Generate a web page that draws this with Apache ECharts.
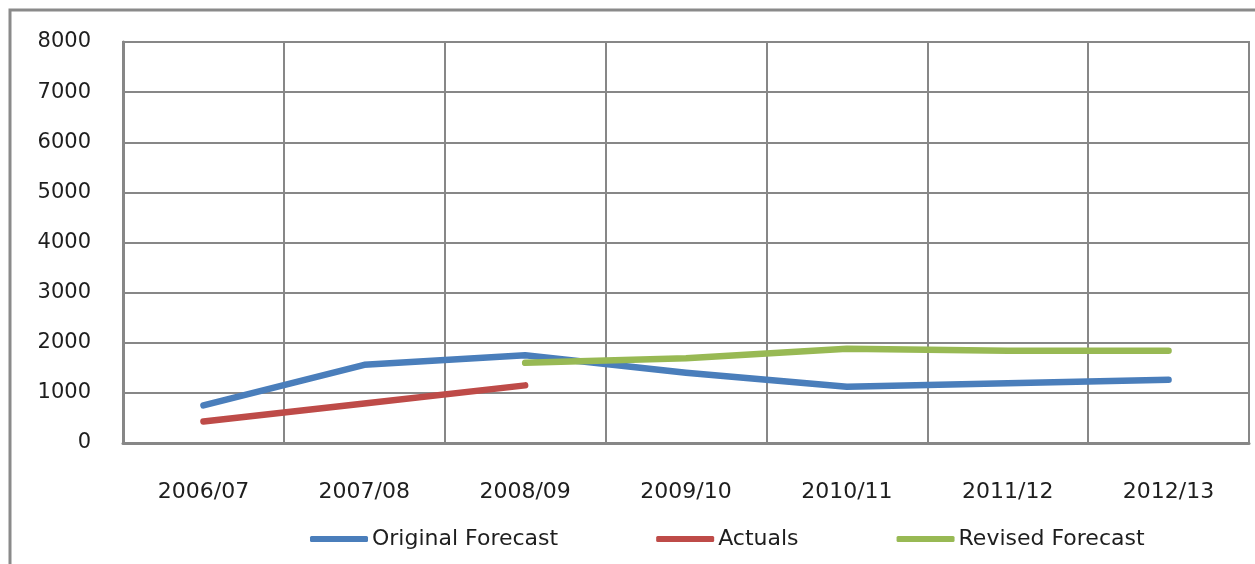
<!DOCTYPE html>
<html>
<head>
<meta charset="utf-8">
<script src="https://cdn.jsdelivr.net/npm/echarts@6/dist/echarts.min.js"></script>
<style>html,body{margin:0;padding:0;background:#fff}#c{width:1255px;height:564px}</style>
</head>
<body>
<div id="c"></div>
<script>
const categories = ['2006/07','2007/08','2008/09','2009/10','2010/11','2011/12','2012/13'];
const originalForecast = [750, 1560, 1750, 1400, 1120, 1190, 1260];
const actuals = [430, 790, 1150, null, null, null, null];
const revisedForecast = [null, null, 1600, 1690, 1880, 1840, 1840];
const seriesNames = ['Original Forecast', 'Actuals', 'Revised Forecast'];
const colors = ['#4a7ebb', '#be4b48', '#98b954'];

const chart = echarts.init(document.getElementById('c'));
const font = 'DejaVu Sans';
const gridColor = '#878787';
function line(name, data, color) {
  return {
    name, type: 'line', data, symbol: 'none', connectNulls: false,
    lineStyle: { color, width: 6.5, cap: 'round', join: 'round' },
    itemStyle: { color }
  };
}
chart.setOption({
  animation: false,
  graphic: [{
    type: 'rect', shape: { x: 10, y: 10, width: 1300, height: 620 },
    style: { fill: 'none', stroke: '#8a8a8a', lineWidth: 3 }, z: -1
  }],
  grid: { left: 123, top: 42, right: 6, bottom: 121, show: true, borderColor: gridColor, borderWidth: 2, containLabel: false },
  xAxis: {
    type: 'category', data: categories, boundaryGap: true,
    axisLine: { lineStyle: { color: gridColor, width: 3 } },
    axisTick: { show: false },
    splitLine: { show: true, lineStyle: { color: gridColor, width: 2 } },
    axisLabel: { color: '#1e1e1e', fontFamily: font, fontSize: 22, margin: 38 }
  },
  yAxis: {
    type: 'value', min: 0, max: 8000, interval: 1000,
    axisLine: { show: true, lineStyle: { color: gridColor, width: 3 } },
    axisTick: { show: false },
    splitLine: { show: true, lineStyle: { color: gridColor, width: 2 } },
    axisLabel: { color: '#1e1e1e', fontFamily: font, fontSize: 21, margin: 32, formatter: v => String(v) }
  },
  legend: {
    left: 310, top: 528, padding: 0, itemWidth: 58, itemHeight: 6, itemGap: 98,
    icon: 'roundRect',
    textStyle: { color: '#1e1e1e', fontFamily: font, fontSize: 22, padding: [0,0,0,-1] },
    data: seriesNames
  },
  series: [
    line(seriesNames[0], originalForecast, colors[0]),
    line(seriesNames[1], actuals, colors[1]),
    line(seriesNames[2], revisedForecast, colors[2])
  ]
});
</script>
</body>
</html>
